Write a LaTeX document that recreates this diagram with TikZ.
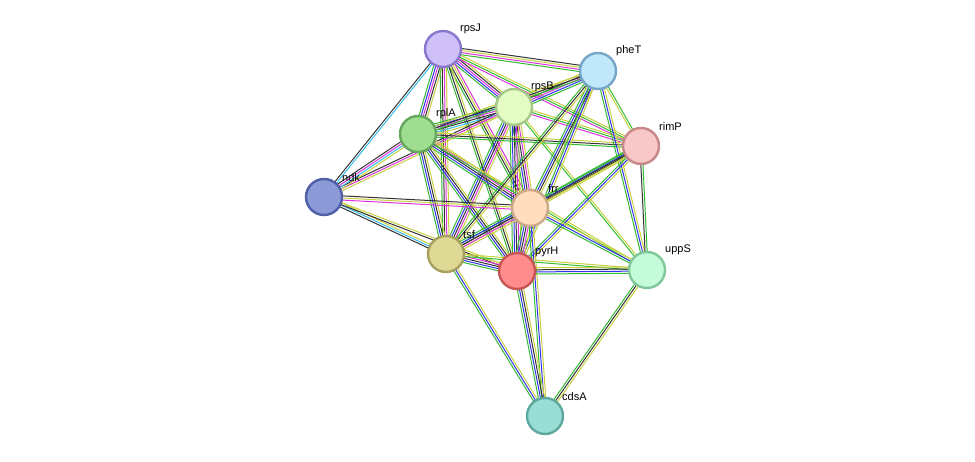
\documentclass[tikz,border=0pt]{standalone}
\usepackage{fontspec}
\setmainfont{Liberation Sans}
\usetikzlibrary{calc,backgrounds}
\definecolor{eY}{HTML}{C8D040}
\definecolor{eG}{HTML}{33BB33}
\definecolor{eB}{HTML}{3333EE}
\definecolor{eK}{HTML}{333333}
\definecolor{eM}{HTML}{DD33DD}
\definecolor{eC}{HTML}{33BBEE}
\definecolor{fJ}{HTML}{D0C0FA}\definecolor{dJ}{HTML}{8877CC}
\definecolor{fT}{HTML}{C0E8FA}\definecolor{dT}{HTML}{77A6C8}
\definecolor{fB}{HTML}{E4FBC4}\definecolor{dB}{HTML}{A6C888}
\definecolor{fA}{HTML}{9FDD90}\definecolor{dA}{HTML}{66A860}
\definecolor{fP}{HTML}{F8C8C8}\definecolor{dP}{HTML}{C88888}
\definecolor{fN}{HTML}{8C9AD8}\definecolor{dN}{HTML}{5060A8}
\definecolor{fF}{HTML}{FFDDBE}\definecolor{dF}{HTML}{CCA888}
\definecolor{fS}{HTML}{DED994}\definecolor{dS}{HTML}{A8A060}
\definecolor{fH}{HTML}{FF8C8C}\definecolor{dH}{HTML}{C85555}
\definecolor{fU}{HTML}{C4FBD8}\definecolor{dU}{HTML}{80C89A}
\definecolor{fC}{HTML}{9ADDD4}\definecolor{dC}{HTML}{5EA8A0}
\newcommand\myedge[4]{%
  \foreach \c [count=\i] in {#4} {%
    \draw[\c, line width=1pt] ($(#1)!{(\i-(#3+1)/2)*2.1pt}!90:(#2)$) -- ($(#2)!{(\i-(#3+1)/2)*2.1pt}!-90:(#1)$);
  }}
\tikzset{
  prot/.style 2 args={circle, minimum size=36pt, inner sep=0pt, line width=2.4pt, fill=#1, draw=#2},
  lab/.style={font=\fontsize{11}{13}\selectfont, anchor=south west, inner sep=0pt}
}
\begin{document}
\begin{tikzpicture}[x=1pt,y=-1pt]
\useasboundingbox (0,0) rectangle (975,462);
\node[prot={fJ}{dJ}] (rpsJ) at (443,49) {};
\node[prot={fT}{dT}] (pheT) at (598,71) {};
\node[prot={fB}{dB}] (rpsB) at (514,107) {};
\node[prot={fA}{dA}] (rplA) at (418,134) {};
\node[prot={fP}{dP}] (rimP) at (641,146) {};
\node[prot={fN}{dN}] (ndk) at (324,197) {};
\node[prot={fF}{dF}] (frr) at (530,208) {};
\node[prot={fS}{dS}] (tsf) at (446,254) {};
\node[prot={fH}{dH}] (pyrH) at (517,271) {};
\node[prot={fU}{dU}] (uppS) at (647,270) {};
\node[prot={fC}{dC}] (cdsA) at (545,416) {};
\foreach \n/\x/\y in {rpsJ/460/34,pheT/616/56,rpsB/531/92,rplA/436/119,rimP/659/131,ndk/342/182,frr/548/193,tsf/463/239,pyrH/535/257,uppS/665/255,cdsA/562/401}
  \node[lab] (l\n) at (\x,\y) {\n};
\begin{scope}[on background layer]
\myedge{rpsJ}{pheT}{4}{eG,eM,eY,eK}
\myedge{rpsJ}{rpsB}{5}{eG,eB,eM,eK,eY}
\myedge{rpsJ}{rplA}{5}{eG,eB,eM,eK,eY}
\myedge{rpsJ}{ndk}{2}{eK,eC}
\myedge{rpsJ}{rimP}{3}{eM,eG,eY}
\myedge{rpsJ}{frr}{4}{eG,eK,eY,eM}
\myedge{rpsJ}{tsf}{4}{eG,eK,eM,eY}
\myedge{rpsJ}{pyrH}{3}{eG,eK,eY}
\myedge{rpsB}{pheT}{5}{eG,eB,eM,eK,eY}
\myedge{rpsB}{rplA}{6}{eG,eB,eM,eK,eC,eY}
\myedge{rpsB}{rimP}{3}{eM,eG,eY}
\myedge{rpsB}{frr}{5}{eG,eB,eK,eM,eY}
\myedge{rpsB}{tsf}{5}{eG,eB,eK,eM,eY}
\myedge{rpsB}{pyrH}{5}{eG,eB,eK,eM,eY}
\myedge{rpsB}{uppS}{2}{eG,eY}
\myedge{rpsB}{ndk}{3}{eK,eM,eY}
\myedge{rplA}{pheT}{3}{eG,eK,eY}
\myedge{rplA}{rimP}{3}{eG,eK,eY}
\myedge{rplA}{frr}{5}{eG,eB,eK,eM,eY}
\myedge{rplA}{tsf}{4}{eG,eB,eK,eY}
\myedge{rplA}{pyrH}{4}{eG,eB,eK,eY}
\myedge{rplA}{ndk}{4}{eK,eM,eC,eY}
\myedge{rplA}{uppS}{2}{eG,eY}
\myedge{pheT}{frr}{4}{eG,eB,eK,eY}
\myedge{pheT}{tsf}{3}{eG,eK,eY}
\myedge{pheT}{pyrH}{3}{eG,eB,eY}
\myedge{pheT}{uppS}{3}{eG,eB,eY}
\myedge{pheT}{rimP}{2}{eY,eG}
\myedge{rimP}{frr}{4}{eG,eB,eK,eY}
\myedge{rimP}{tsf}{3}{eG,eK,eY}
\myedge{rimP}{pyrH}{3}{eG,eB,eY}
\myedge{rimP}{uppS}{2}{eK,eG}
\myedge{ndk}{frr}{3}{eM,eY,eK}
\myedge{ndk}{tsf}{3}{eK,eC,eY}
\myedge{ndk}{pyrH}{2}{eK,eY}
\myedge{frr}{tsf}{5}{eG,eB,eK,eM,eY}
\myedge{frr}{pyrH}{5}{eG,eB,eK,eM,eY}
\myedge{frr}{uppS}{3}{eG,eB,eY}
\myedge{frr}{cdsA}{3}{eG,eB,eY}
\myedge{tsf}{pyrH}{5}{eG,eB,eK,eM,eY}
\myedge{tsf}{uppS}{2}{eG,eY}
\myedge{tsf}{cdsA}{3}{eG,eB,eY}
\myedge{pyrH}{uppS}{4}{eG,eB,eK,eY}
\myedge{pyrH}{cdsA}{4}{eG,eB,eK,eY}
\myedge{uppS}{cdsA}{3}{eG,eK,eY}
\end{scope}
\end{tikzpicture}
\end{document}
